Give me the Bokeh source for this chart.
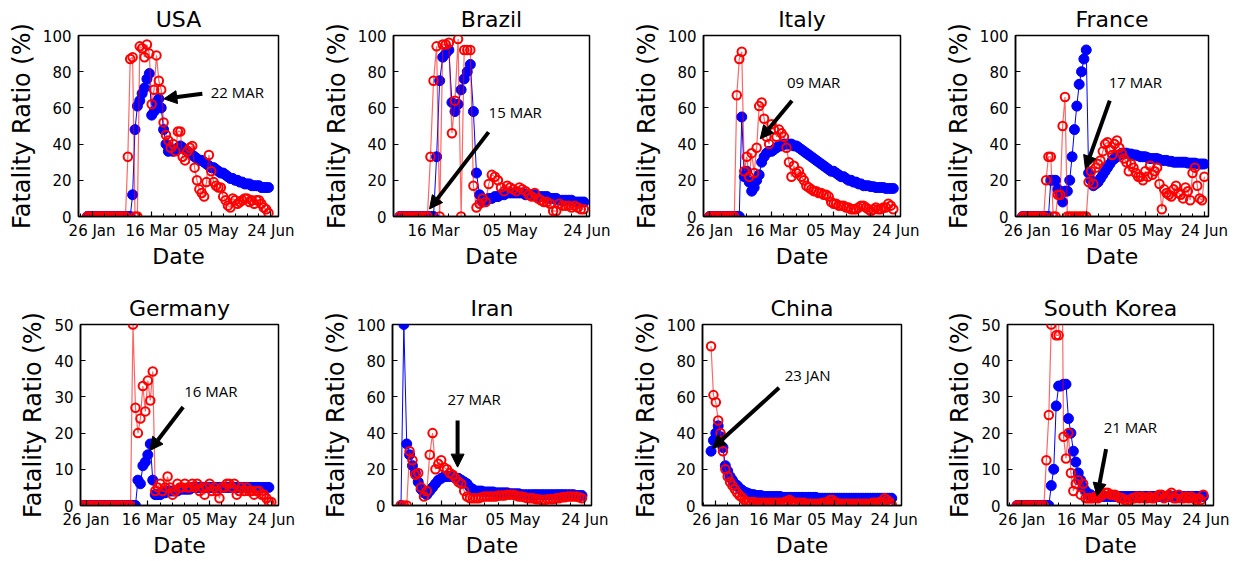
import numpy as np
from bokeh.plotting import figure
from bokeh.layouts import column, row
from bokeh.models import Range1d, FixedTicker, Arrow, NormalHead, Label
from bokeh.embed import file_html
from bokeh.resources import INLINE

# day index: 0 = 22 Jan 2020, series sampled every 2 days
STEP = 2
TICK_DAYS = [4, 54, 104, 154]
TICK_LABELS = ["26 Jan", "16 Mar", "05 May", "24 Jun"]
MINOR_DAYS = [-6, 14, 24, 34, 44, 64, 74, 84, 94, 114, 124, 134, 144, 164]

# ---------------- USA ----------------
usa_start = 0
usa_blue = [0, 0, 0, 0, 0, 0, 0, 0, 0, 0, 0, 0, 0, 0, 0, 0, 0, 0, 0,
            12, 48, 61, 64, 68, 71, 76, 79, 56, 58, 63, 65, 60, 48, 40, 36,
            37, 36, 37, 38, 39, 38, 37, 36, 35, 34, 33, 32, 31, 31, 30, 29,
            28, 27, 27, 26, 25, 24, 24, 23, 22, 21, 21, 20, 20, 19, 19, 18,
            18, 18, 17, 17, 17, 17, 16, 16, 16, 16]
usa_red = [0, 0, 0, 0, 0, 0, 0, 0, 0, 0, 0, 0, 0, 0, 0, 0, 0,
           33, 87, 88, 0, 0, 94, 93, 88, 95, 90, 62, 70, 89, 75, 70, 52, 45,
           42, 38, 40, 36, 47, 47, 33, 31, 36, 38, 39, 27, 20, 15, 13, 11, 19,
           34, 25, 19, 17, 16, 16, 11, 9, 6, 5, 10, 9, 7, 8, 9, 10, 10, 8, 9,
           7, 9, 9, 7, 5, 4, 2]

# ---------------- Brazil ----------------
brazil_start = 32
brazil_blue = [0, 0, 0, 0, 0, 0, 0, 0, 0, 0, 0, 0,
               33, 75, 88, 90, 92, 63, 58, 62, 70, 76, 80, 84, 58, 24, 12, 8,
               9, 10, 10, 11, 11, 12, 12, 13, 13, 13, 13, 13, 13, 12, 12, 12,
               12, 11, 11, 11, 11, 10, 10, 10, 9, 9, 9, 9, 9, 8, 8, 8, 8]
brazil_red = [0, 0, 0, 0, 0, 0, 0, 0, 0, 0,
              33, 75, 94, 0, 95, 95, 96, 46, 64, 98, 0, 92, 92, 92, 17, 5, 7,
              10, 8, 18, 23, 22, 20, 16, 14, 17, 16, 15, 14, 16, 15, 14, 12,
              11, 13, 10, 9, 8, 8, 7, 3, 3, 7, 6, 6, 6, 5, 6, 5, 4, 4]

# ---------------- Italy ----------------
italy_start = 4
italy_blue = [0, 0, 0, 0, 0, 0, 0, 0, 0, 0, 0, 0, 0,
              55, 22, 25, 19, 14, 16, 20, 23, 30, 33, 35, 36, 36, 37, 38, 39,
              39, 40, 40, 40, 40, 39, 39, 38, 37, 36, 35, 34, 33, 32, 31, 30,
              29, 28, 27, 26, 25, 25, 24, 23, 22, 22, 21, 20, 20, 19, 19, 18,
              18, 17, 17, 17, 16.5, 16.5, 16, 16, 16, 16, 15.5, 15.5, 15.5, 15.5]
italy_red = [0, 0, 0, 0, 0, 0, 0, 0, 0, 0, 0,
             67, 87, 91, 25, 33, 22, 35, 24, 38, 61, 63, 54, 44, 40, 51, 48,
             44, 48, 46, 44, 38, 30, 22, 28, 24, 25, 22, 20, 17, 16, 15, 14,
             14, 13, 13, 12, 12, 11, 8, 7, 7, 6, 6, 6, 5, 5, 4, 4, 4, 5, 6, 6,
             5, 4, 3, 4, 5, 4, 4, 5, 5, 7, 6, 4]

# ---------------- France ----------------
france_start = 0
france_blue = [0, 0, 0, 0, 0, 0, 0, 0, 0, 0, 0, 0,
               20, 20, 20, 15, 12, 8, 14, 14, 20, 33, 48, 61, 73, 80, 87, 92,
               24, 20, 17, 18, 19, 21, 23, 25, 27, 29, 31, 32, 33, 34, 35, 35,
               35, 34.5, 34.5, 34, 34, 33.5, 33, 33, 33, 32.5, 32, 32, 32, 32,
               31.5, 31, 31, 31, 30.5, 30.5, 30, 30, 30, 30, 30, 30, 29.5, 29.5,
               29.5, 29.5, 29, 29, 29, 29]
france_red = [0, 0, 0, 0, 0, 0, 0, 0, 0, 0,
              20, 33, 33, 0, 0, 12, 12, 50, 66,
              0, 0, 0, 0, 0, 0, 0, 0, 0,
              19, 25, 18, 27, 29, 31, 36, 40, 41, 37, 34, 40, 42, 38, 35, 32,
              30, 25, 29, 27, 24, 22, 22, 20, 25, 22, 28, 23, 25, 27, 18, 4,
              15, 13, 12, 11, 15, 17, 13, 12, 10, 16, 14, 9, 24, 27, 17, 10,
              9, 22]

# ---------------- Germany ----------------
germany_start = 0
germany_blue = [0, 0, 0, 0, 0, 0, 0, 0, 0, 0, 0, 0, 0, 0, 0, 0, 0, 0, 0, 0,
                0, 0, 0,
                7, 6, 11, 12, 14, 17, 7, 3, 3, 3, 3.5, 3.5, 4, 4, 4, 4, 4,
                4.5, 4.5, 4.5, 4.5, 4.5, 5, 5, 5, 5, 5, 5, 5, 5, 5, 5, 5, 5,
                5, 5, 5, 5, 5, 5, 5, 5, 5, 5, 5, 5, 5, 5, 5, 5, 5, 5, 5, 5]
germany_red = [0, 0, 0, 0, 0, 0, 0, 0, 0, 0, 0, 0, 0, 0, 0, 0, 0, 0, 0, 0, 0,
               50, 27, 20, 24, 33, 26, 34.5, 29, 37, 4, 5, 6, 4, 5, 8, 5, 3,
               4, 6, 5, 5, 6, 5, 5, 6, 5, 6, 4, 5, 3, 5, 6, 4, 5, 4, 2, 5, 5,
               6, 6, 5, 6, 3, 4, 5, 4, 5, 4, 4, 3, 4, 4, 3, 3, 2, 1, 1]

# ---------------- Iran ----------------
iran_start = 26
iran_blue = [0, 100, 34, 28, 22, 18, 13, 9, 7, 6, 8, 10, 12, 14, 15, 16, 16,
             16, 16, 15, 15, 14, 13, 12, 10, 9, 8, 8, 8, 7.5, 7.5, 7.5, 7.5,
             7, 7, 7, 7, 7, 6.5, 6.5, 6.5, 6.5, 6, 6, 6, 6, 6, 6, 6, 6, 6, 6,
             6, 6, 6, 6, 6, 6, 6, 6, 6, 5.5, 5.5, 5.5]
iran_red = [0, 0, 0, 30, 25, 17, 18, 10, 5, 8, 28, 40, 20, 23, 25, 21, 20,
            18, 17, 15, 13, 12, 8, 5, 4, 4, 4, 4, 4.5, 5, 5, 5, 5, 5, 5.5,
            5.5, 5.5, 6, 6, 6, 5.5, 5, 5, 4.5, 4, 4, 4, 3.5, 3.5, 3, 3, 3.5,
            3.5, 3.5, 4, 4, 4.5, 4.5, 5, 5, 5, 5, 4.5, 4]

# ---------------- China ----------------
china_start = 0
china_blue = [30, 36, 40, 44, 38, 32, 22, 19, 16, 14, 12, 11, 9.5, 8.5, 7.5, 7,
              6.5, 6, 6, 5.5, 5.5, 5.5, 5, 5, 5, 5, 5, 5, 5, 5, 4.5, 4.5, 4.5,
              4.5, 4.5, 4.5, 4.5, 4.5, 4.5, 4.5, 4.5, 4.5, 4.5, 4.5, 4.5, 4,
              4, 4, 4, 4, 4, 4, 4, 4, 4, 4, 4, 4, 4, 4, 4, 4, 4, 4, 4, 4, 4,
              4, 4, 4, 4, 4, 4, 4, 4, 4, 4]
china_red = [88, 61, 57, 47, 40, 30, 20, 16, 13, 11, 9, 7, 5.5, 4.5, 3, 2, 2,
             2, 2, 1.5, 1.5, 1.5, 1.5, 1.5, 1.5, 1.5, 1.5, 1.5, 1.5, 1.5, 1.5,
             2, 2.5, 3, 2, 1.5, 1.5, 1.5, 1.5, 1.5, 1, 1, 1, 1, 1, 1, 1, 1.5,
             1.5, 2, 3, 3, 2, 1.5, 1, 1, 1, 1, 1, 1, 1, 1, 1, 1, 1, 1, 1, 1,
             1.5, 1.5, 1.5, 2, 2, 4, 3, 2, 0.5]

# ---------------- South Korea ----------------
sk_start = 0
sk_blue = [0, 0, 0, 0, 0, 0, 0, 0, 0, 0, 0, 0, 0, 0,
           5.5, 10, 27.5, 33, 33, 33.5, 33.5, 24, 20, 15, 12, 9, 7, 5, 4, 3,
           3, 2.5, 2.5, 2.5, 2.5, 2.5, 2.5, 2.5, 2.5, 2.5, 2.5, 2.5, 2.5, 2.5,
           2.5, 2.5, 2.5, 2.5, 2.5, 2.5, 2.5, 2.5, 2.5, 2.5, 2.5, 2.5, 2.5,
           2.5, 2.5, 2.5, 2.5, 2.5, 2.5, 2.5, 2.5, 2.5, 2.5, 2.5, 2.5, 2.5,
           2.5, 2.5, 2.5, 2.5, 2.5, 2.5, 2.5]
sk_red = [0, 0, 0, 0, 0, 0, 0, 0, 0, 0, 0, 0,
          12.5, 25, 50, 100, 47, 47, 100, 19, 13, 20, 9, 4, 6, 7, 3, 6, 2, 2,
          2, 2, 2.5, 2, 2.5, 3, 3.5, 3.5, 3, 3, 3, 2.5, 2, 2, 1.5, 1, 1.5, 2,
          2, 2.5, 2, 2.5, 2, 2, 2.5, 2, 2, 2.5, 3, 3, 2, 2.5, 3, 3.5, 2, 2,
          3, 2, 2, 2.5, 2, 2.5, 2, 1.5, 2, 1.5, 3]

# annotation: (label day, label value, text, tail day, tail value, tip day, tip value)
usa_note = (103.5, 68.7, "22 MAR", 96.5, 67.8, 64.2, 65.0)
brazil_note = (89.9, 57.6, "15 MAR", 89.9, 46.6, 51.4, 4.2)
italy_note = (66.4, 74.2, "09 MAR", 70.4, 64.0, 44.9, 42.9)
france_note = (73.0, 74.2, "17 MAR", 73.9, 64.0, 53.3, 26.3)
germany_note = (83.4, 31.5, "16 MAR", 82.6, 27.2, 55.7, 15.2)
iran_note = (58.4, 59.0, "27 MAR", 65.4, 47.0, 65.4, 21.2)
china_note = (62.0, 72.0, "23 JAN", 57.2, 65.0, 1.2, 31.6)
sk_note = (70.8, 21.6, "21 MAR", 72.7, 15.6, 65.4, 2.6)

FONT = "DejaVu Sans"


def make_panel(title, start, blue, red, ymax, xr, note, geom):
    w, h, bl, br, bt, bb = geom
    p = figure(width=w, height=h, min_border_left=bl, min_border_right=br,
               min_border_top=bt, min_border_bottom=bb,
               x_range=Range1d(*xr), y_range=Range1d(0, ymax),
               output_backend="svg", toolbar_location=None, title=title)
    p.background_fill_color = "white"
    p.border_fill_color = "white"
    p.outline_line_color = "black"
    p.outline_line_width = 1.5
    p.grid.visible = False

    p.title.align = "center"
    p.title.text_font = FONT
    p.title.text_font_size = "22px"
    p.title.text_font_style = "normal"
    p.title.text_color = "black"
    p.title.standoff = 8

    p.xaxis.ticker = FixedTicker(ticks=TICK_DAYS, minor_ticks=MINOR_DAYS)
    p.xaxis.major_label_overrides = {d: s for d, s in zip(TICK_DAYS, TICK_LABELS)}
    step = 10 if ymax == 50 else 20
    p.yaxis.ticker = FixedTicker(ticks=list(range(0, ymax + 1, step)))
    p.xaxis.axis_label = "Date"
    p.yaxis.axis_label = "Fatality Ratio (%)"
    for ax in (p.xaxis[0], p.yaxis[0]):
        ax.axis_label_text_font = FONT
        ax.axis_label_text_font_style = "normal"
        ax.axis_label_text_color = "black"
        ax.major_label_text_font = FONT
        ax.major_label_text_font_size = "15px"
        ax.major_label_text_color = "black"
        ax.axis_line_color = "black"
        ax.axis_line_width = 1.5
        ax.major_tick_in = 5
        ax.major_tick_out = 0
        ax.major_tick_line_color = "black"
        ax.major_tick_line_width = 1.2
        ax.minor_tick_in = 3
        ax.minor_tick_out = 0
        ax.minor_tick_line_color = "black"
    p.xaxis.axis_label_text_font_size = "22px"
    p.yaxis.axis_label_text_font_size = "24px"
    p.yaxis.minor_tick_line_color = None
    p.xaxis.major_label_standoff = 5
    p.xaxis.axis_label_standoff = 1
    p.yaxis.major_label_standoff = 7
    p.yaxis.axis_label_standoff = 4

    xb = start + STEP * np.arange(len(blue))
    xrr = start + STEP * np.arange(len(red))
    p.line(xb, blue, line_color="blue", line_width=1)
    p.scatter(xb, blue, marker="circle", size=10, fill_color="blue", line_color="blue")
    p.line(xrr, red, line_color="red", line_width=1.2, line_alpha=0.6)
    p.scatter(xrr, red, marker="circle", size=8.5, fill_color=None, line_color="red", line_width=2)

    lx, ly, txt, tx, ty, hx, hy = note
    p.add_layout(Arrow(end=NormalHead(size=13, fill_color="black", line_color="black"),
                       x_start=tx, y_start=ty, x_end=hx, y_end=hy,
                       line_color="black", line_width=4))
    p.add_layout(Label(x=lx, y=ly, text=txt, text_font="Open Sans", text_font_size="15px",
                       text_color="black", text_baseline="middle", text_align="left"))
    return p


r1h, r1t, r1b = 285, 35, 69
r2h, r2t, r2b = 276, 39, 56

panels_row1 = [
    make_panel("USA", usa_start, usa_blue, usa_red, 100, (-7.4, 160.4), usa_note, (315, r1h, 78, 37, r1t, r1b)),
    make_panel("Brazil", brazil_start, brazil_blue, brazil_red, 100, (27.9, 155.7), brazil_note, (310, r1h, 78, 36, r1t, r1b)),
    make_panel("Italy", italy_start, italy_blue, italy_red, 100, (-0.8, 157.8), italy_note, (310, r1h, 78, 35, r1t, r1b)),
    make_panel("France", france_start, france_blue, france_red, 100, (-5.9, 157.5), france_note, (304, r1h, 80, 31, r1t, r1b)),
]
panels_row2 = [
    make_panel("Germany", germany_start, germany_blue, germany_red, 50, (-0.5, 159.8), germany_note, (315, r2h, 80, 37, r2t, r2b)),
    make_panel("Iran", iran_start, iran_blue, iran_red, 100, (20.1, 158.6), iran_note, (310, r2h, 77, 34, r2t, r2b)),
    make_panel("China", china_start, china_blue, china_red, 100, (-7.2, 160.2), china_note, (310, r2h, 77, 34, r2t, r2b)),
    make_panel("South Korea", sk_start, sk_blue, sk_red, 50, (-7.7, 160.3), sk_note, (304, r2h, 72, 26, r2t, r2b)),
]

layout = column(row(*panels_row1, spacing=0), row(*panels_row2, spacing=0), spacing=0)
open("out.html", "w").write(file_html(layout, INLINE))
